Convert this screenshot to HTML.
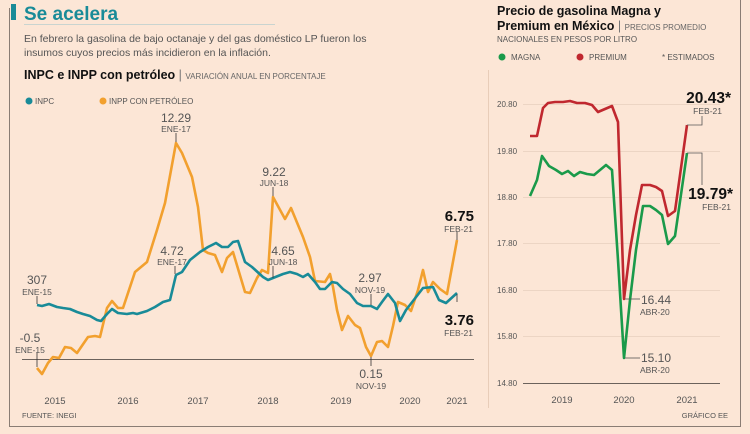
<!DOCTYPE html>
<html><head><meta charset="utf-8"><style>
html,body{margin:0;padding:0;width:750px;height:434px;background:#fce6d6;overflow:hidden}
svg{display:block}
text{font-family:"Liberation Sans",sans-serif;fill:#555}
.b{font-weight:bold;fill:#111}
</style></head><body>
<svg width="750" height="434" viewBox="0 0 750 434">
<rect width="750" height="434" fill="#fce6d6"/>
<!-- frames -->
<line x1="9.5" y1="8" x2="9.5" y2="426" stroke="#8a7d74" stroke-width="1"/>
<line x1="9" y1="426.5" x2="740" y2="426.5" stroke="#8a7d74" stroke-width="1"/>
<line x1="740.5" y1="0" x2="740.5" y2="427" stroke="#8a7d74" stroke-width="1"/>
<line x1="488.5" y1="70" x2="488.5" y2="408" stroke="#e8cdb9" stroke-width="1"/>
<!-- header -->
<rect x="11" y="4" width="5" height="16" fill="#198b98"/>
<text x="24" y="20" font-size="19" font-weight="bold" style="fill:#198b98">Se acelera</text>
<line x1="24" y1="24.5" x2="275" y2="24.5" stroke="#c9d4d0" stroke-width="1"/>
<text x="24" y="42" font-size="10.5">En febrero la gasolina de bajo octanaje y del gas doméstico LP fueron los</text>
<text x="24" y="56" font-size="10.5">insumos cuyos precios más incidieron en la inflación.</text>
<text x="24" y="79" font-size="12.5" class="b">INPC e INPP con petróleo <tspan style="font-weight:normal;fill:#777">|</tspan> <tspan font-size="8" style="font-weight:normal;fill:#666">VARIACIÓN ANUAL EN PORCENTAJE</tspan></text>
<circle cx="29" cy="101" r="3.5" fill="#198b98"/><text x="35" y="104" font-size="8">INPC</text>
<circle cx="103" cy="101" r="3.5" fill="#f2a02e"/><text x="109" y="104" font-size="8">INPP CON PETRÓLEO</text>
<!-- left chart -->
<line x1="22" y1="359.5" x2="474" y2="359.5" stroke="#6b625c" stroke-width="1"/>
<g font-size="9.5" text-anchor="middle">
<text x="55" y="404">2015</text><text x="128" y="404">2016</text><text x="198" y="404">2017</text><text x="268" y="404">2018</text><text x="341" y="404">2019</text><text x="410" y="404">2020</text><text x="457" y="404">2021</text>
</g>
<text x="22" y="418" font-size="7.5">FUENTE: INEGI</text>
<polyline fill="none" stroke="#f2a02e" stroke-width="2.6" stroke-linejoin="round" points="37,368 42,374 48,363 53,357 59,358 65,347 71,348 77,353 88,337 95,336 100,337 107,308 112,301 118,308 123,308 135,272 147,262 157,230 165,203 176,143 182,153 192,177 198,207 203,250 208,253 215,255 222,272 227,258 233,252 245,292 250,293 257,278 262,270 268,273 273,197 285,219 291,208 303,237 310,257 315,281 325,282 330,274 333,287 337,310 342,330 348,316 355,325 360,328 366,347 371,356 377,342 382,341 388,347 393,326 398,302 405,305 411,311 418,290 423,270 428,292 433,282 440,289 447,294 457,240"/>
<polyline fill="none" stroke="#198b98" stroke-width="2.6" stroke-linejoin="round" points="37,305 42,306 49,304 57,307 63,308 70,309 77,312 83,314 90,316 97,320 101,321 107,314 112,309 118,313 127,314 133,313 137,314 147,311 155,307 163,302 170,300 176,275 182,272 190,260 200,252 208,247 216,243 222,247 228,247 233,242 238,241 245,262 252,267 263,277 268,280 273,278 283,274 290,272 297,274 303,277 308,274 315,282 320,289 325,289 332,282 337,283 343,289 350,294 357,303 363,306 371,306 377,309 382,302 388,294 395,303 400,321 406,310 413,301 423,288 433,287 439,300 446,303 457,293"/>
<g stroke="#333" stroke-width="0.8">
<line x1="176" y1="133" x2="176" y2="142"/><line x1="273" y1="187" x2="273" y2="196"/>
<line x1="175" y1="266" x2="175" y2="274"/><line x1="273" y1="266" x2="273" y2="278"/>
<line x1="37" y1="296" x2="37" y2="304"/><line x1="37" y1="353" x2="37" y2="367"/>
<line x1="371" y1="294" x2="371" y2="305"/><line x1="371" y1="357" x2="371" y2="366"/>
<line x1="457" y1="232" x2="457" y2="240"/><line x1="457" y1="294" x2="457" y2="302"/>
</g>
<g text-anchor="middle">
<text x="176" y="122" font-size="12">12.29</text><text x="176" y="132" font-size="8.5">ENE-17</text>
<text x="274" y="176" font-size="12">9.22</text><text x="274" y="186" font-size="8.5">JUN-18</text>
<text x="172" y="255" font-size="12">4.72</text><text x="172" y="265" font-size="8.5">ENE-17</text>
<text x="283" y="255" font-size="12">4.65</text><text x="283" y="265" font-size="8.5">JUN-18</text>
<text x="37" y="284" font-size="12">307</text><text x="37" y="295" font-size="8.5">ENE-15</text>
<text x="30" y="342" font-size="12">-0.5</text><text x="30" y="353" font-size="8.5">ENE-15</text>
<text x="370" y="282" font-size="12">2.97</text><text x="370" y="293" font-size="8.5">NOV-19</text>
<text x="371" y="378" font-size="12">0.15</text><text x="371" y="389" font-size="8.5">NOV-19</text>
</g>
<g text-anchor="end">
<text x="474" y="221" font-size="15" class="b">6.75</text><text x="473" y="232" font-size="8.5">FEB-21</text>
<text x="474" y="325" font-size="15" class="b">3.76</text><text x="473" y="336" font-size="8.5">FEB-21</text>
</g>
<!-- right chart header -->
<text x="497" y="15" font-size="12.5" class="b">Precio de gasolina Magna y</text>
<text x="497" y="30" font-size="12.5" class="b">Premium en México <tspan style="font-weight:normal;fill:#777">|</tspan> <tspan font-size="8" style="font-weight:normal;fill:#666">PRECIOS PROMEDIO</tspan></text>
<text x="497" y="42" font-size="8">NACIONALES EN PESOS POR LITRO</text>
<circle cx="502" cy="57" r="3.5" fill="#1a9a4a"/><text x="511" y="60" font-size="8">MAGNA</text>
<circle cx="580" cy="57" r="3.5" fill="#c0282f"/><text x="589" y="60" font-size="8">PREMIUM</text>
<text x="662" y="60" font-size="8">* ESTIMADOS</text>
<!-- right grid -->
<g stroke="#ecd5c4" stroke-width="1">
<line x1="523" y1="104.5" x2="720" y2="104.5"/><line x1="523" y1="151.5" x2="720" y2="151.5"/><line x1="523" y1="197.5" x2="720" y2="197.5"/><line x1="523" y1="243.5" x2="720" y2="243.5"/><line x1="523" y1="290.5" x2="720" y2="290.5"/><line x1="523" y1="336.5" x2="720" y2="336.5"/>
</g>
<line x1="523" y1="383.5" x2="720" y2="383.5" stroke="#6b625c" stroke-width="1"/>
<g font-size="8" style="fill:#777">
<text x="497" y="107">20.80</text><text x="497" y="154">19.80</text><text x="497" y="200">18.80</text><text x="497" y="246">17.80</text><text x="497" y="293">16.80</text><text x="497" y="339">15.80</text><text x="497" y="386">14.80</text>
</g>
<g font-size="9.5" text-anchor="middle"><text x="562" y="403">2019</text><text x="624" y="403">2020</text><text x="687" y="403">2021</text></g>
<text x="728" y="418" font-size="7.5" text-anchor="end">GRÁFICO EE</text>
<polyline fill="none" stroke="#c0282f" stroke-width="2.6" stroke-linejoin="round" points="530,136 537,136 543,108 548,103 555,102 563,102 570,101 577,103 585,103 592,105 598,112 605,109 612,106 618,122 624,299 630,250 636,215 642,185 650,185 656,187 662,191 668,216 675,211 687,125"/>
<polyline fill="none" stroke="#1a9a4a" stroke-width="2.6" stroke-linejoin="round" points="530,196 537,180 542,156 549,166 556,170 562,174 568,171 574,176 580,172 587,174 594,175 600,170 606,165 612,170 618,260 624,358 630,300 636,250 643,206 650,206 656,210 662,215 668,244 675,236 687,153"/>
<g stroke="#555" stroke-width="0.8" fill="none">
<polyline points="687,125 702,125 702,116"/>
<polyline points="687,153 702,153 702,185"/>
<line x1="625" y1="299" x2="640" y2="299"/>
<line x1="625" y1="358" x2="640" y2="358"/>
</g>
<text x="731" y="103" font-size="15.5" class="b" text-anchor="end">20.43*</text><text x="722" y="114" font-size="8.5" text-anchor="end">FEB-21</text>
<text x="733" y="199" font-size="15.5" class="b" text-anchor="end">19.79*</text><text x="731" y="210" font-size="8.5" text-anchor="end">FEB-21</text>
<text x="641" y="304" font-size="12">16.44</text><text x="640" y="315" font-size="8.5">ABR-20</text>
<text x="641" y="362" font-size="12">15.10</text><text x="640" y="373" font-size="8.5">ABR-20</text>
</svg>
</body></html>
